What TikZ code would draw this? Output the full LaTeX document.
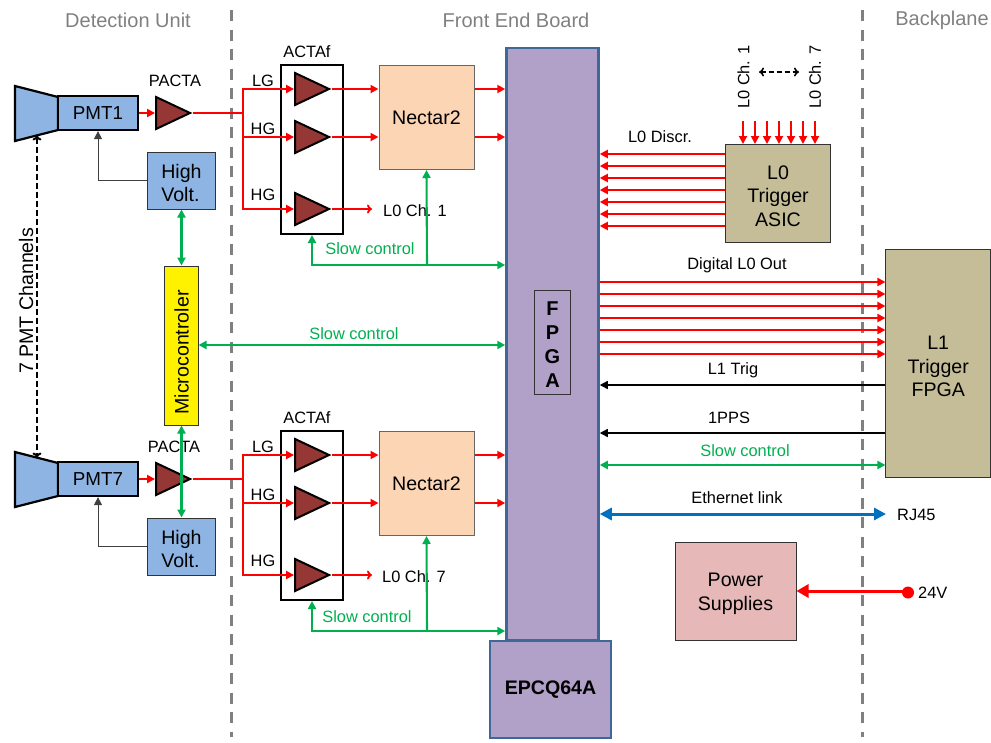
\documentclass[tikz,border=0pt]{standalone}
\usepackage{fontspec}
\setmainfont{Liberation Sans}
\usetikzlibrary{arrows.meta,shapes.geometric}

\definecolor{tubeblue}{HTML}{8EB4E3}
\definecolor{ampred}{HTML}{953735}
\definecolor{peach}{HTML}{FCD5B5}
\definecolor{lilac}{HTML}{B1A0C7}
\definecolor{lilacline}{HTML}{3F6797}
\definecolor{khaki}{HTML}{C4BD97}
\definecolor{rose}{HTML}{E6B9B8}
\definecolor{sgreen}{HTML}{00B050}
\definecolor{ethblue}{HTML}{0070C0}

\newcommand{\droptxt}{\rule{0pt}{19pt}}

\tikzset{
  lab/.style={font=\fontsize{16.4}{20}\selectfont,inner sep=0},
  big/.style={font=\fontsize{19.6}{23.5}\selectfont,inner sep=0},
  head/.style={font=\fontsize{20}{24}\selectfont,text=gray,inner sep=0},
  block/.style={draw=#1,rectangle,inner sep=0,line width=1pt,align=center},
  tubebox/.style={draw,fill=tubeblue,rectangle,inner sep=0,line width=2.2pt},
  amp/.style={isosceles triangle,isosceles triangle apex angle=48,isosceles triangle stretches,
    draw,fill=ampred,inner sep=0,line width=2pt,minimum width=32,minimum height=34,anchor=apex},
  sig/.style={draw=red,line width=1.9pt,>={Triangle[length=8pt,width=8pt]}},
  opentip/.style={>={To[length=5pt,width=9pt]}},
  ctrl/.style={draw=sgreen,line width=2.1pt,>={Triangle[length=8pt,width=8pt]}},
  wire/.style={draw=black,line width=1.3pt,>={Triangle[length=8pt,width=8pt]}},
  sep/.style={draw=gray,line width=2.3pt,dash pattern=on 11pt off 8.5pt}
}

\begin{document}
\begin{tikzpicture}[x=1pt,y=-1pt]
  \useasboundingbox (0,0) rectangle (991,742);

  \node [head] (hdet) at (128,20) {Detection Unit};
  \node [head] (hfeb) at (516,20) {Front End Board};
  \node [head] (hback) at (942,20) {Backplane};
  \coordinate (sepa) at (231.5,10);
  \coordinate (sepb) at (862.5,10);
  \draw [sep] (sepa) -- (231.5,737);
  \draw [sep] (sepb) -- (862.5,737);

  \node [block=lilacline,fill=lilac,line width=2.5pt,minimum width=92,minimum height=592] (fpga) at (552.5,344) {};
  \node [block=lilacline,fill=lilac,line width=2.5pt,minimum width=121,minimum height=97,font=\fontsize{19.6}{23}\selectfont\bfseries] (epcq) at (550.5,689.5) {EPCQ64A};
  \node [block=black!80,fill=lilac,minimum width=36,minimum height=104,font=\fontsize{20}{24}\selectfont\bfseries] (fpgalab) at (552.5,342) {\droptxt F\\P\\G\\A};

  % the two readout channels
  \foreach \ch/\dy/\px/\lx/\sx/\sy in {1/0/175/383/370/249,7/366/174/382/367/251} {
   \begin{scope}[shift={(0,\dy)}]
     \draw [fill=tubeblue,line width=2.2pt,line join=miter] (15,86) -- (58,97) -- (58,130) -- (15,141) -- cycle;
     \coordinate (tubetop\ch) at (37,91.5);
     \coordinate (tubebot\ch) at (37,135.5);
     \node [tubebox,minimum width=80,minimum height=34,font=\fontsize{18.8}{22}\selectfont] (pmt\ch) at (98,113) {PMT\ch\hspace{8pt}};
     \node [amp] (pacta\ch) at (192.5,113) {};
     \node [lab] (pactalab\ch) at (\px,81) {PACTA};
     \node [block=black!80,fill=tubeblue,minimum width=68,minimum height=57,big,align=left] (hv\ch) at (181.5,180.5) {\droptxt High\hspace{7pt}\\Volt.};
     \draw [wire,draw=black!75,line width=1pt,->] (hv\ch.west) -| (pmt\ch.south);
     \draw [sig,->] (pmt\ch.east) -- (pacta\ch.lower side);

     \node [draw,line width=2pt,rectangle,inner sep=0,minimum width=62,minimum height=169] (acta\ch) at (312,149.5) {};
     \node [lab] (actalab\ch) at (307,52) {ACTAf};
     \node [block=black!60,fill=peach,minimum width=95,minimum height=104,big] (nectar\ch) at (426.5,117.5) {Nectar2};
     \foreach \a/\y/\g/\ly in {a/89/LG/81,b/137/HG/129,c/209/HG/195} {
        \node [amp] (\a\ch) at (331.5,\y) {};
        \node [lab] (g\a\ch) at (263,\ly) {\g};
     }
     \coordinate (split\ch) at (243,113);
     \draw [sig] (pacta\ch.apex) -- (split\ch);
     \draw [sig,->] (split\ch) |- (a\ch.lower side);
     \draw [sig,->] (split\ch) |- (c\ch.lower side);
     \draw [sig,->] (split\ch) |- (b\ch.lower side);
     \foreach \a in {a,b} {
        \draw [sig,->] (\a\ch.apex) -- (\a\ch.apex -| nectar\ch.west);
        \draw [sig,->] (\a\ch.apex -| nectar\ch.east) -- (\a\ch.apex -| fpga.west);
     }
     \node [lab,anchor=west] (chlab\ch) at (\lx,211) {L0 Ch. \ch};
     \coordinate (chend\ch) at (372,209);
     \draw [sig,->,opentip] (c\ch.apex) -- (chend\ch);

     \coordinate (slow\ch) at (427,265);
     \draw [ctrl,->] (slow\ch) -- (nectar\ch.south);
     \draw [ctrl,->] (slow\ch) -- (slow\ch -| fpga.west);
     \draw [ctrl,->] (slow\ch) -| (acta\ch.south);
     \node [lab,text=sgreen] (slowlab\ch) at (\sx,\sy) {Slow control};
   \end{scope}
  }

  \node [block=black!80,fill=yellow,minimum width=159,minimum height=33.5,rotate=90,big] (micro) at (181.5,345.5) {Microcontroler\hspace{14pt}};
  \draw [ctrl,<->] (hv1.south) -- (micro.east);
  \draw [ctrl,<->] (micro.west) -- (hv7.north);
  \coordinate (mcmid) at (198.5,345);
  \draw [ctrl,<->] (mcmid) -- (mcmid -| fpga.west);
  \node [lab,text=sgreen] (slowmid) at (354,334) {Slow control};

  \draw [line width=2pt,dash pattern=on 6pt off 3pt,<->,opentip] (tubebot1) -- (tubetop7);
  \node [big,rotate=90] (chans) at (26,301) {7 PMT Channels};

  % L0 trigger
  \node [block=black!80,fill=khaki,minimum width=105,minimum height=98,big] (asic) at (778,193.5) {\droptxt L0\\Trigger\\ASIC};
  \foreach \i in {0,...,6} {
     \coordinate (top\i) at (743+12*\i,121);
     \draw [sig,->] (top\i) -- (top\i |- asic.north);
     \coordinate (disc\i) at (727,154+12*\i);
     \draw [sig,->] (asic.west |- disc\i) -- (fpga.east |- disc\i);
  }
  \node [lab] (discr) at (660,137) {L0 Discr.};
  \node [lab,rotate=90] (l0a) at (743.5,77) {L0 Ch. 1};
  \node [lab,rotate=90] (l0b) at (815,77) {L0 Ch. 7};
  \coordinate (dla) at (759,72);
  \coordinate (dlb) at (799,72);
  \draw [line width=1.6pt,dash pattern=on 5pt off 3pt,<->,opentip] (dla) -- (dlb);

  % L1 trigger
  \node [block=black!80,fill=khaki,minimum width=104.5,minimum height=228.5,big] (l1) at (938.2,363.7) {\droptxt L1\\Trigger\\FPGA};
  \foreach \i in {0,...,6} {
     \coordinate (out\i) at (600,282+12*\i);
     \draw [sig,->] (out\i -| fpga.east) -- (out\i -| l1.west);
  }
  \node [lab] (digout) at (737,265.5) {Digital L0 Out};
  \coordinate (ltrig) at (886,385);
  \coordinate (pps) at (886,433);
  \coordinate (slowbp) at (886,465);
  \draw [wire,->] (ltrig -| l1.west) -- (ltrig -| fpga.east);
  \draw [wire,->] (pps -| l1.west) -- (pps -| fpga.east);
  \draw [ctrl,<->] (slowbp -| fpga.east) -- (slowbp -| l1.west);
  \node [lab] (ltriglab) at (733,370) {L1 Trig};
  \node [lab] (ppslab) at (729,418) {1PPS};
  \node [lab,text=sgreen] (slowbplab) at (745,451) {Slow control};

  \node [lab,anchor=west] (rj) at (897,514.5) {RJ45};
  \coordinate (ethend) at (886,514);
  \draw [draw=ethblue,line width=3pt,<->,>={Triangle[length=12pt,width=12pt]}] (ethend -| fpga.east) -- (ethend);
  \node [lab] (ethlab) at (737,498) {Ethernet link};

  \node [block=black!80,fill=rose,minimum width=121,minimum height=98,big] (power) at (735.5,591) {\droptxt Power\\Supplies};
  \node [circle,fill=red,inner sep=0,minimum size=12] (dot) at (908,592.5) {};
  \node [lab,anchor=west] (volt) at (918,592.5) {24V};
  \draw [draw=red,line width=3pt,->,>={Triangle[length=12pt,width=13pt]}] (dot.center |- power.east) -- (power.east);
\end{tikzpicture}
\end{document}
